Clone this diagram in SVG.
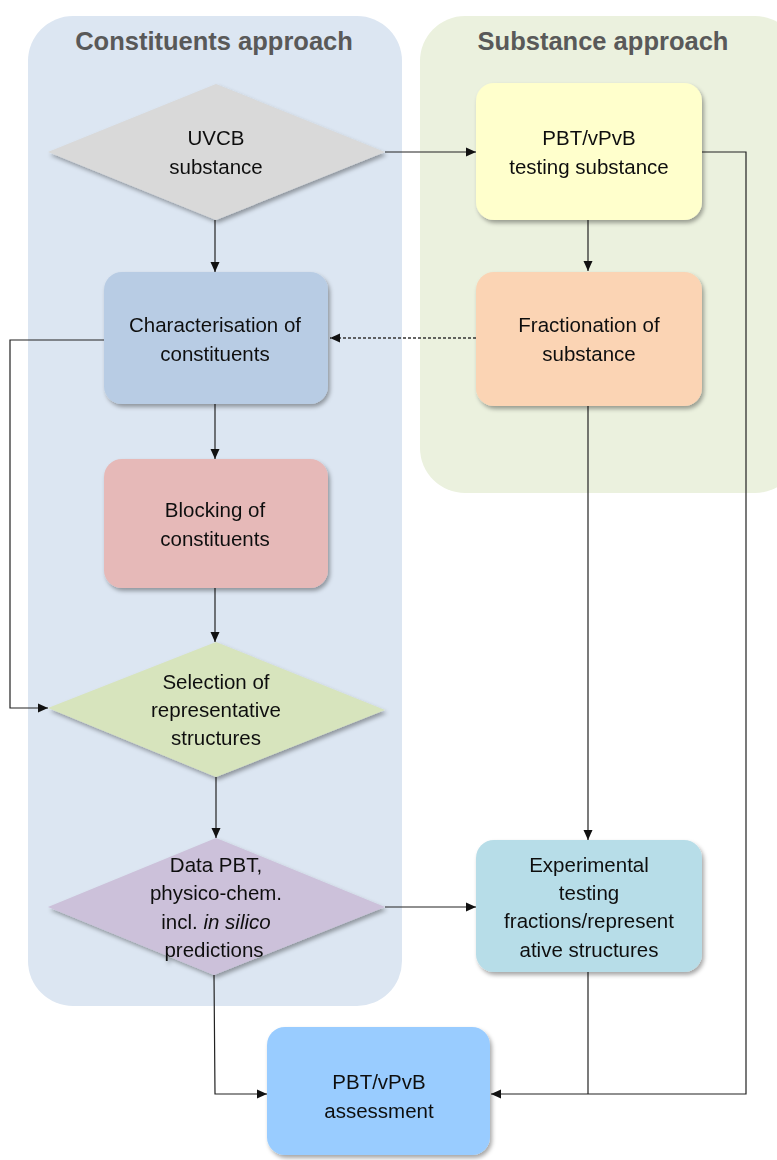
<svg xmlns="http://www.w3.org/2000/svg" width="777" height="1160" viewBox="0 0 777 1160">
<style>
.t{font-family:"Liberation Sans",Arial,sans-serif;font-size:20.5px;fill:#111;text-anchor:middle}
.title{font-family:"Liberation Sans",Arial,sans-serif;font-size:25.5px;font-weight:bold;fill:#595959;text-anchor:middle}
.c{fill:none;stroke:#222;stroke-width:1.2}
.node{filter:url(#sh)}
</style>
<defs>
<filter id="sh" x="-10%" y="-10%" width="125%" height="125%">
<feDropShadow dx="2" dy="3" stdDeviation="2" flood-color="#000" flood-opacity="0.35"/>
</filter>
<marker id="ah" markerWidth="12" markerHeight="12" refX="10" refY="6" orient="auto" markerUnits="userSpaceOnUse">
<path d="M0,1.5 L10,6 L0,10.5 z" fill="#111"/>
</marker>
</defs>
<rect width="777" height="1160" fill="#fff"/>
<g id="panel-constituents">
<rect x="28" y="16" width="374" height="990" rx="45" fill="#dce6f2"/>
<text class="title" x="214" y="50">Constituents approach</text>
</g>
<g id="panel-substance">
<rect x="420" y="16" width="380" height="477" rx="45" fill="#ebf1de"/>
<text class="title" x="603" y="50">Substance approach</text>
</g>
<g id="connectors">
<line class="c" x1="385" y1="152" x2="476" y2="152" marker-end="url(#ah)"/>
<polyline class="c" points="702,152 746,152 746,1094 491,1094" marker-end="url(#ah)"/>
<line class="c" x1="215" y1="220" x2="215" y2="272" marker-end="url(#ah)"/>
<line class="c" x1="588" y1="220" x2="588" y2="271" marker-end="url(#ah)"/>
<line x1="476" y1="338" x2="330" y2="338" stroke="#333" stroke-width="1.4" stroke-dasharray="3,2" marker-end="url(#ah)"/>
<polyline class="c" points="104,340 10,340 10,708 48,708" marker-end="url(#ah)"/>
<line class="c" x1="215" y1="404" x2="215" y2="459" marker-end="url(#ah)"/>
<line class="c" x1="588" y1="406" x2="588" y2="840" marker-end="url(#ah)"/>
<line class="c" x1="215" y1="588" x2="215" y2="642" marker-end="url(#ah)"/>
<line class="c" x1="216" y1="777" x2="216" y2="838" marker-end="url(#ah)"/>
<line class="c" x1="385" y1="907" x2="476" y2="907" marker-end="url(#ah)"/>
<polyline class="c" points="214,975 215,1094 267,1094" marker-end="url(#ah)"/>
<line class="c" x1="588" y1="972" x2="588" y2="1094"/>
</g>
<g id="uvcb" class="node">
<polygon points="216,84 385,152 216,220 48,152" fill="#d9d9d9"/>
<text class="t" x="216" y="145">UVCB</text>
<text class="t" x="216" y="174">substance</text>
</g>
<g id="pbt-testing" class="node">
<rect x="476" y="83" width="226" height="137" rx="18" fill="#ffffcc"/>
<text class="t" x="589" y="145">PBT/vPvB</text>
<text class="t" x="589" y="174">testing substance</text>
</g>
<g id="characterisation" class="node">
<rect x="104" y="272" width="224" height="132" rx="18" fill="#b8cce4"/>
<text class="t" x="215" y="332">Characterisation of</text>
<text class="t" x="215" y="361">constituents</text>
</g>
<g id="fractionation" class="node">
<rect x="476" y="272" width="226" height="134" rx="18" fill="#fbd4b4"/>
<text class="t" x="589" y="332">Fractionation of</text>
<text class="t" x="589" y="361">substance</text>
</g>
<g id="blocking" class="node">
<rect x="104" y="459" width="224" height="129" rx="18" fill="#e6b9b8"/>
<text class="t" x="215" y="517">Blocking of</text>
<text class="t" x="215" y="546">constituents</text>
</g>
<g id="selection" class="node">
<polygon points="216,642 385,710 216,777 48,708" fill="#d7e4bd"/>
<text class="t" x="216" y="689">Selection of</text>
<text class="t" x="216" y="717">representative</text>
<text class="t" x="216" y="745">structures</text>
</g>
<g id="data" class="node">
<polygon points="216,838 385,907 214,975 48,907" fill="#ccc1da"/>
<text class="t" x="216" y="872">Data PBT,</text>
<text class="t" x="216" y="900">physico-chem.</text>
<text class="t" x="216" y="929">incl. <tspan font-style="italic">in silico</tspan></text>
<text class="t" x="214" y="957">predictions</text>
</g>
<g id="experimental" class="node">
<rect x="476" y="840" width="226" height="132" rx="18" fill="#b7dde8"/>
<text class="t" x="589" y="872">Experimental</text>
<text class="t" x="589" y="900">testing</text>
<text class="t" x="589" y="928">fractions/represent</text>
<text class="t" x="589" y="957">ative structures</text>
</g>
<g id="assessment" class="node">
<rect x="267" y="1027" width="223" height="128" rx="18" fill="#99ccff"/>
<text class="t" x="379" y="1089">PBT/vPvB</text>
<text class="t" x="379" y="1118">assessment</text>
</g>
</svg>
